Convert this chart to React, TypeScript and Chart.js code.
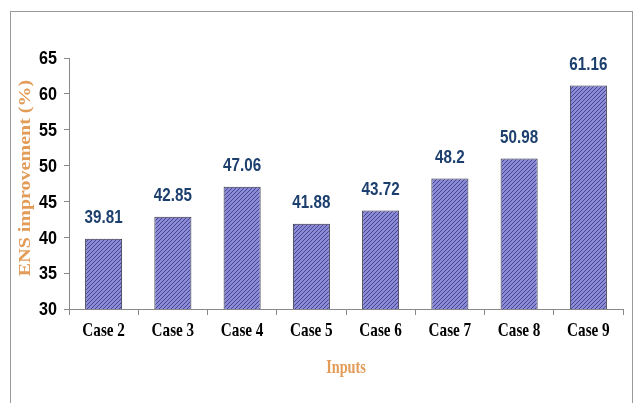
import React, { useEffect, useRef } from "react";
import { Chart, registerables } from "chart.js";

Chart.register(...registerables);

const categories = ["Case 2", "Case 3", "Case 4", "Case 5", "Case 6", "Case 7", "Case 8", "Case 9"];
const improvement = [39.81, 42.85, 47.06, 41.88, 43.72, 48.2, 50.98, 61.16];
const yTicks = [30, 35, 40, 45, 50, 55, 60, 65];
const yTitle = "ENS improvement (%)";
const xTitle = "Inputs";

const ORANGE = "#e39b58";
const SANS = '"Liberation Sans", Arial, sans-serif';
const SERIF = '"Liberation Serif", "Times New Roman", serif';

function makePattern(): CanvasPattern | string {
  const c = document.createElement("canvas");
  c.width = 4;
  c.height = 4;
  const g = c.getContext("2d");
  if (!g) return "#7a7ac8";
  g.fillStyle = "#8a8ad8";
  g.fillRect(0, 0, 4, 4);
  g.strokeStyle = "#46468a";
  g.lineWidth = 1;
  g.beginPath();
  g.moveTo(-1, 5);
  g.lineTo(5, -1);
  g.moveTo(-1, 1);
  g.lineTo(1, -1);
  g.moveTo(3, 5);
  g.lineTo(5, 3);
  g.stroke();
  const p = g.createPattern(c, "repeat");
  return p || "#7a7ac8";
}

// draw text condensed horizontally (the reference uses narrow fonts)
function condensedText(ctx: CanvasRenderingContext2D, text: string, x: number, y: number, sx: number, align: CanvasTextAlign) {
  ctx.save();
  ctx.translate(x, y);
  ctx.scale(sx, 1);
  ctx.textAlign = align;
  ctx.fillText(text, 0, 0);
  ctx.restore();
}

const framePlugin = {
  id: "frame",
  beforeDraw(chart: any) {
    const ctx = chart.ctx;
    ctx.save();
    ctx.fillStyle = "#ffffff";
    ctx.fillRect(0, 0, chart.width, chart.height);
    ctx.strokeStyle = "#9a9a9a";
    ctx.lineWidth = 1;
    ctx.strokeRect(10.5, 11.5, 622, 420);
    ctx.restore();
  },
};

const textPlugin = {
  id: "texts",
  afterDatasetsDraw(chart: any) {
    const ctx: CanvasRenderingContext2D = chart.ctx;
    const xs = chart.scales.x;
    const ys = chart.scales.y;
    const area = chart.chartArea;
    ctx.save();
    ctx.textBaseline = "middle";

    // value labels
    const meta = chart.getDatasetMeta(0);
    ctx.font = `bold 19px ${SANS}`;
    ctx.fillStyle = "#1c3f6e";
    meta.data.forEach((bar: any, i: number) => {
      condensedText(ctx, String(improvement[i]), bar.x, bar.y - 21, 0.8, "center");
    });

    // y tick labels
    ctx.font = `bold 19px ${SANS}`;
    ctx.fillStyle = "#000000";
    yTicks.forEach((v) => {
      condensedText(ctx, String(v), 57, ys.getPixelForValue(v) + 1, 0.85, "right");
    });

    // x tick labels
    ctx.font = `bold 19px ${SERIF}`;
    ctx.fillStyle = "#000000";
    categories.forEach((c, i) => {
      condensedText(ctx, c, xs.getPixelForValue(i), 331, 0.8, "center");
    });

    // x title
    ctx.font = `bold 19px ${SERIF}`;
    ctx.fillStyle = ORANGE;
    condensedText(ctx, xTitle, (area.left + area.right) / 2, 368, 0.75, "center");

    // y title (rotated)
    ctx.save();
    ctx.translate(26, 178);
    ctx.rotate(-Math.PI / 2);
    ctx.scale(1, 0.8);
    ctx.font = `bold 20px ${SERIF}`;
    ctx.fillStyle = ORANGE;
    ctx.textAlign = "center";
    ctx.fillText(yTitle, 0, 0);
    ctx.restore();

    ctx.restore();
  },
};

export default function App() {
  const ref = useRef<HTMLCanvasElement | null>(null);
  useEffect(() => {
    if (!ref.current) return;
    const chart = new Chart(ref.current, {
      type: "bar",
      data: {
        labels: categories,
        datasets: [
          {
            data: improvement,
            backgroundColor: makePattern() as any,
            borderColor: "#333344",
            borderWidth: 1,
            categoryPercentage: 1,
            barPercentage: 0.535,
          },
        ],
      },
      options: {
        animation: false,
        responsive: true,
        maintainAspectRatio: false,
        layout: { padding: { top: 58, right: 13, left: 0, bottom: 0 } },
        plugins: { legend: { display: false }, tooltip: { enabled: false } },
        scales: {
          x: {
            offset: true,
            grid: { display: true, offset: true, drawOnChartArea: false, tickLength: 6, color: "#888888" },
            border: { display: true, color: "#888888" },
            ticks: { display: false },
            afterFit(scale: any) {
              scale.height = 94;
            },
          },
          y: {
            min: 30,
            max: 65,
            ticks: { stepSize: 5, display: false },
            grid: { display: true, drawOnChartArea: false, tickLength: 5, color: "#888888" },
            border: { display: true, color: "#888888" },
            afterFit(scale: any) {
              scale.width = 69;
            },
          },
        },
      },
      plugins: [framePlugin, textPlugin],
    } as any);
    return () => chart.destroy();
  }, []);
  return (
    <div style={{ position: "absolute", left: 0, top: 0, width: 636, height: 403 }}>
      <canvas ref={ref} />
    </div>
  );
}
